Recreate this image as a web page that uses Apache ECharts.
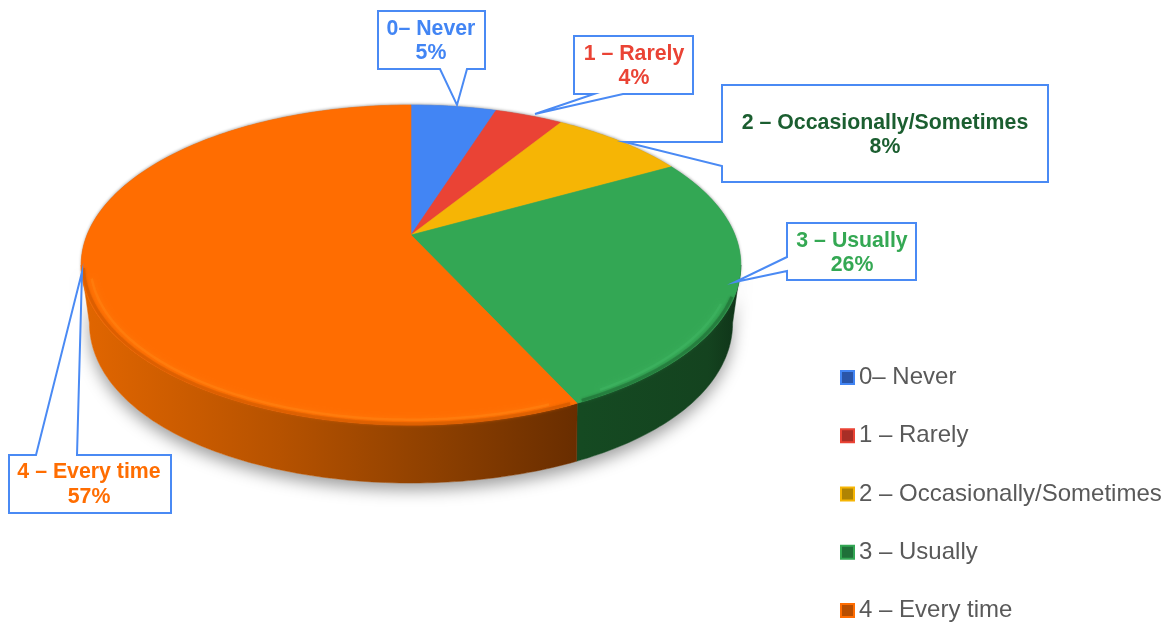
<!DOCTYPE html>
<html><head><meta charset="utf-8">
<style>html,body{margin:0;padding:0;background:#fff}#c{width:1172px;height:623px}</style>
<script src="https://cdn.jsdelivr.net/npm/echarts@6/dist/echarts.min.js"></script>
</head><body><div id="c"></div>
<script>
const categories = ['0– Never', '1 – Rarely', '2 – Occasionally/Sometimes', '3 – Usually', '4 – Every time'];
const percents = [5, 4, 8, 26, 57];

const sliceColors = ['#4285f4', '#ea4335', '#f6b505', '#33a754', '#ff6d01'];
const labelColors = ['#4285f4', '#ea4335', '#1b5e30', '#34a853', '#ff6d01'];
const legendDark = ['#2a55a8', '#a82e26', '#b08403', '#1f7039', '#b84e00'];
const BORDER = '#4a8af4';

// projection of the round pie onto the page
const P = { cx: 411, cy: 235, a: 324, b: 154.4, k: 0.1875, depth: 58, shrink: 0.025, halfWidth: 330 };
const WALL_FROM = 100.8, WALL_TO = 259.2;
function rim(deg) {
  const t = deg * Math.PI / 180, w = 1 + P.k * Math.cos(t);
  return [P.cx + P.a * Math.sin(t) / w, P.cy - P.b * Math.cos(t) / w];
}
function lower(p) {
  const d = p[0] - P.cx, r = Math.abs(d) / P.halfWidth;
  return [P.cx + d * (1 - P.shrink * r * r * r), p[1] + P.depth];
}
function arc(from, to) {
  const out = [], n = Math.max(2, Math.ceil(Math.abs(to - from)));
  for (let i = 0; i <= n; i++) out.push(rim(from + (to - from) * i / n));
  return out;
}
function inset(points, f) {
  return points.map(p => [P.cx + (p[0] - P.cx) * f, P.cy + (p[1] - P.cy) * f]);
}
function wallPoints(from, to) {
  const top = arc(from, to);
  return top.concat(top.slice().reverse().map(lower));
}

const wallFills = [null, null, null,
  { type: 'linear', global: true, x: 580, y: 0, x2: 740, y2: 0,
    colorStops: [{ offset: 0, color: '#154a22' }, { offset: 0.8, color: '#14431f' }, { offset: 1, color: '#0f3318' }] },
  { type: 'linear', global: true, x: 80, y: 0, x2: 580, y2: 0,
    colorStops: [{ offset: 0, color: '#e26600' }, { offset: 0.4, color: '#b65200' }, { offset: 0.72, color: '#8c3f00' }, { offset: 1, color: '#682d00' }] }
];
const rimGlow = [null, null, null, '#3fb562', '#ff8412'];
const rimShade = [null, null, null, '#23793b', '#d85c00'];

// callout outlines: box corners with the pointer wedge
const callouts = [
  { path: [[378,11],[485,11],[485,69],[467,69],[457,105],[440,69],[378,69]], cx: 431, lines: [29, 53] },
  { path: [[574,36],[693,36],[693,94],[623,94],[535,114],[594,94],[574,94]], cx: 634, lines: [54, 78] },
  { path: [[722,85],[1048,85],[1048,182],[722,182],[722,166],[625,142],[722,142]], cx: 885, lines: [123, 147] },
  { path: [[787,223],[916,223],[916,280],[787,280],[787,271],[735,282],[787,257]], cx: 852, lines: [241, 265] },
  { path: [[9,455],[36,455],[82,272],[77,455],[171,455],[171,513],[9,513]], cx: 89, lines: [472, 497] }
];

function renderSlice(i) {
  return function (params, api) {
    const start = api.value(0) * 3.6, end = (api.value(0) + api.value(1)) * 3.6;
    const children = [];
    if (i === 0) {
      children.push({ type: 'polygon', shape: { points: wallPoints(WALL_FROM, WALL_TO) },
        style: { fill: '#fff', shadowBlur: 16, shadowOffsetY: 7, shadowColor: 'rgba(0,0,0,0.38)' } });
      children.push({ type: 'polygon', shape: { points: arc(0, 360) },
        style: { fill: '#888', shadowBlur: 3, shadowOffsetY: -1, shadowColor: 'rgba(0,0,0,0.35)' } });
    }
    const wf = Math.max(start, WALL_FROM), wt = Math.min(end, WALL_TO);
    if (wt > wf) {
      children.push({ type: 'polygon', shape: { points: wallPoints(wf, wt) },
        style: { fill: wallFills[i], stroke: wallFills[i], lineWidth: 0.5 } });
    }
    const face = [[P.cx, P.cy]].concat(arc(start, end));
    children.push({ type: 'polygon', shape: { points: face },
      style: { fill: sliceColors[i], stroke: sliceColors[i], lineWidth: 0.6 } });
    if (rimGlow[i] && wt > wf) {
      const gf = i === 4 ? wf + 1 : Math.max(wf, 112), gt = i === 4 ? 258 : wt - 1;
      children.push({ type: 'polyline', shape: { points: inset(arc(gf, gt), 0.993) },
        style: { fill: null, stroke: rimShade[i], lineWidth: 3, opacity: 0.8, shadowBlur: 3, shadowColor: rimShade[i] } });
      children.push({ type: 'polyline', shape: { points: inset(arc(gf + 3, gt - 4), 0.972) },
        style: { fill: null, stroke: rimGlow[i], lineWidth: 2.5, opacity: 0.55, shadowBlur: 5, shadowColor: rimGlow[i] } });
    }
    const c = callouts[i];
    children.push({ type: 'polygon', shape: { points: c.path },
      style: { fill: '#fff', stroke: BORDER, lineWidth: 2, lineJoin: 'miter' } });
    [categories[i], percents[i] + '%'].forEach((t, j) => children.push({
      type: 'text',
      style: { text: t, x: c.cx, y: c.lines[j], align: 'center', verticalAlign: 'middle',
        fill: labelColors[i], font: 'bold 21.3px "Liberation Sans", Arial, sans-serif' }
    }));
    return { type: 'group', children };
  };
}

let running = 0;
const series = categories.map((name, i) => {
  const s = {
    type: 'custom', name, coordinateSystem: 'none', silent: true, animation: false,
    itemStyle: { color: sliceColors[i] },
    renderItem: renderSlice(i),
    data: [[running, percents[i]]]
  };
  running += percents[i];
  return s;
});

const chart = echarts.init(document.getElementById('c'), null, { renderer: 'canvas' });
chart.setOption({
  backgroundColor: '#fff',
  animation: false,
  legend: {
    orient: 'vertical', left: 840, top: 365, itemGap: 33.25, itemWidth: 13, itemHeight: 13, icon: 'rect',
    selectedMode: false, padding: 0,
    textStyle: { fontFamily: '"Liberation Sans", Arial, sans-serif', fontSize: 24, color: '#595959', lineHeight: 25 },
    data: categories.map((name, i) => ({
      name, itemStyle: { color: legendDark[i], borderColor: sliceColors[i], borderWidth: 2 }
    }))
  },
  series
});
</script></body></html>
